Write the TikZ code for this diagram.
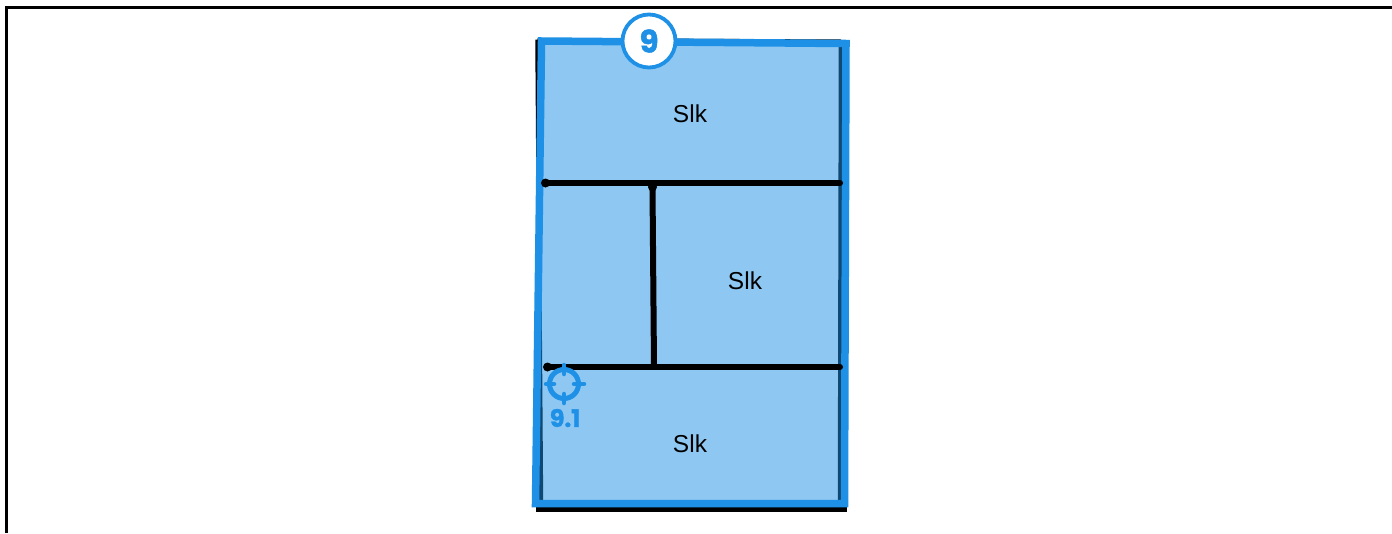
\documentclass[tikz,border=0pt]{standalone}
\usepackage{fontspec}
\setmainfont{Liberation Sans}
\newfontfamily\badgefont[BoldFeatures={FakeBold=1.5}]{Poppins}
\definecolor{planblue}{HTML}{1E90E6}
\tikzset{
  wall/.style={line width=6pt,draw=black},
  walldot/.style={circle,fill=black,inner sep=0pt,minimum size=9pt},
  room/.style={font=\fontsize{24.5}{26}\selectfont,text=black,inner sep=0pt},
  tick/.style={line width=4.5pt,draw=planblue,line cap=round}
}
\begin{document}
\begin{tikzpicture}[x=1pt,y=-1pt]
      \useasboundingbox(0,0)rectangle(1392,533);
      \begin{scope}[shift={(0,0)}]
        \coordinate(FL) at (6,533);
        \coordinate(FC) at (6,7);
        \coordinate(FR) at (1392,7);
        \draw[line width=3pt,line join=miter](FL)--(FC)--(FR);
        %outline under the blue area
        \coordinate(A) at (537.5,39.5);
        \coordinate(B) at (841,41);
        \coordinate(C) at (840,509);
        \coordinate(D) at (541,509);
        \coordinate(E) at (536,509);
        \coordinate(F) at (847,509);
        \draw[line width=3pt](A)--(B);
        \draw[line width=4.5pt](A)--(D);
        \draw[line width=4.5pt](B)--(C);
        \draw[line width=5.5pt](E)--(F);
        %blue area
        \coordinate(P) at (541.5,41);
        \coordinate(Q) at (846,43.5);
        \coordinate(R) at (844.5,503.5);
        \coordinate(S) at (535.5,503.5);
        \fill[planblue,fill opacity=.5](P)--(Q)--(R)--(S)--cycle;
        \draw[line width=7.5pt,draw=planblue,line join=miter](P)--(Q)--(R)--(S)--cycle;
      \end{scope}
      \begin{scope}[shift={(0,0)}]
        \node[walldot](H1) at (545.5,183){};
        \node[walldot](H2) at (547.5,367){};
        \node[walldot](V1) at (652.5,187){};
        \coordinate(H1') at (840,183);
        \coordinate(H2') at (840,367);
        \coordinate(V2) at (654,367);
        \draw[wall,line cap=round](H1.center)--(H1');
        \draw[wall,line cap=round](H2.center)--(H2');
        \draw[wall](V1.center)--(V2);
        \node[room](R1) at (690,114){Slk};
        \node[room](R2) at (745,281){Slk};
        \node[room](R3) at (690,444){Slk};
      \end{scope}
      \begin{scope}[shift={(0,0)}]
        \node[circle,draw=planblue,fill=white,line width=3.8pt,minimum size=53pt,inner sep=0pt,
              font=\badgefont\bfseries\fontsize{31}{32}\selectfont,text=planblue](N9) at (649,41){9};
        \coordinate(T) at (564,384);
        \draw[draw=planblue,line width=5pt](T)circle(14.5);
        \coordinate(T1) at (564,365);\coordinate(T2) at (564,374);
        \coordinate(T3) at (564,394);\coordinate(T4) at (564,403);
        \coordinate(T5) at (546,384);\coordinate(T6) at (554,384);
        \coordinate(T7) at (574,384);\coordinate(T8) at (584,384);
        \draw[tick](T1)--(T2);
        \draw[tick](T3)--(T4);
        \draw[tick](T5)--(T6);
        \draw[tick](T7)--(T8);
        \node[font=\badgefont\bfseries\fontsize{24}{25}\selectfont,text=planblue,inner sep=0pt](L91) at (565,418){9.1};
      \end{scope}
    \end{tikzpicture}
\end{document}
